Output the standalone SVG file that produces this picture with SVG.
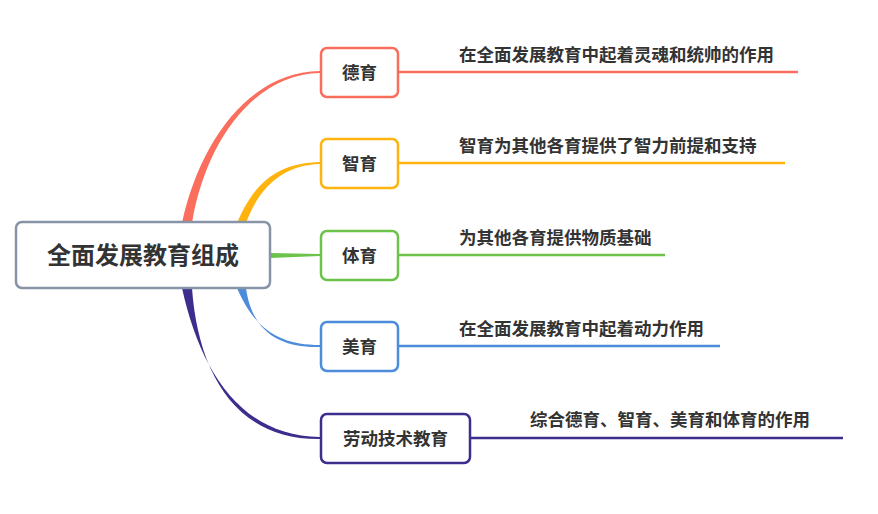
<svg xmlns="http://www.w3.org/2000/svg" width="878" height="514" viewBox="0 0 878 514">
<style>
text{font-family:"Noto Sans CJK SC",sans-serif;fill:#333;font-weight:bold}
.c{font-size:17.5px;text-anchor:middle}
.l{font-size:17.5px}
.n{fill:#fff;stroke-width:2.5}
</style>
<rect width="878" height="514" fill="#fff"/>
<g id="connectors">
<path d="M182,223 C200,140 250,72 320,71 L320,73 C255,74 206,140 192,223 Z" fill="#fb6d5c"/>
<path d="M237,223 C255,180 280,163 320,162 L320,164 C285,165 260,185 246,223 Z" fill="#ffb30f"/>
<path d="M270,253 L320,254 L320,256 L270,258 Z" fill="#6cc24a"/>
<path d="M237,288 C255,330 280,345 320,345 L320,347 C280,348 252,332 246,288 Z" fill="#4d8cdb"/>
<path d="M182,288 C200,370 240,436 320,437 L320,439 C235,440 198,372 192,288 Z" fill="#3d2e8d"/>
<g fill="none" stroke-width="2.5">
<line x1="398" y1="72" x2="798" y2="72" stroke="#fb6d5c"/>
<line x1="398" y1="163" x2="785" y2="163" stroke="#ffb30f"/>
<line x1="398" y1="255" x2="665" y2="255" stroke="#6cc24a"/>
<line x1="398" y1="346" x2="720" y2="346" stroke="#4d8cdb"/>
<line x1="470" y1="438" x2="843" y2="438" stroke="#3d2e8d"/>
</g>
</g>
<g id="root"><rect x="16" y="222" width="254" height="66" rx="6" fill="#fff" stroke="#8794a8" stroke-width="2.5"/><text x="143" y="264" font-size="24" text-anchor="middle">全面发展教育组成</text></g>
<g id="n1"><rect class="n" x="321" y="48" width="77" height="49" rx="6" stroke="#fb6d5c"/><text class="c" x="359.5" y="79">德育</text></g>
<g id="n2"><rect class="n" x="321" y="139" width="77" height="49" rx="6" stroke="#ffb30f"/><text class="c" x="359.5" y="170">智育</text></g>
<g id="n3"><rect class="n" x="321" y="231" width="77" height="49" rx="6" stroke="#6cc24a"/><text class="c" x="359.5" y="262">体育</text></g>
<g id="n4"><rect class="n" x="321" y="322" width="77" height="49" rx="6" stroke="#4d8cdb"/><text class="c" x="359.5" y="353">美育</text></g>
<g id="n5"><rect class="n" x="321" y="414" width="149" height="49" rx="6" stroke="#3d2e8d"/><text class="c" x="395.5" y="445">劳动技术教育</text></g>
<g id="t1"><text class="l" x="459" y="61">在全面发展教育中起着灵魂和统帅的作用</text></g>
<g id="t2"><text class="l" x="459" y="152">智育为其他各育提供了智力前提和支持</text></g>
<g id="t3"><text class="l" x="459" y="244">为其他各育提供物质基础</text></g>
<g id="t4"><text class="l" x="459" y="335">在全面发展教育中起着动力作用</text></g>
<g id="t5"><text class="l" x="530" y="426">综合德育、智育、美育和体育的作用</text></g>
</svg>
